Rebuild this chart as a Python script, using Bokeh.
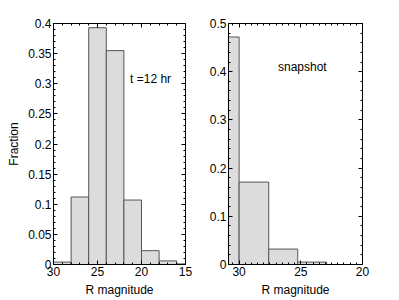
import numpy as np
from bokeh.plotting import figure
from bokeh.layouts import row
from bokeh.models import (Range1d, FixedTicker, LinearAxis, CustomJSTickFormatter, Label)
from bokeh.embed import file_html
from bokeh.resources import INLINE

# ---- data ----
left_edges = [30, 28, 26, 24, 22, 20, 18, 16, 14]
left_frac = [0.004, 0.112, 0.393, 0.355, 0.107, 0.023, 0.006, 0.001]
left_xticks = [30, 25, 20, 15]
left_yticks = [0, 0.05, 0.1, 0.15, 0.2, 0.25, 0.3, 0.35, 0.4]

right_edges = [32.35, 30.0, 27.6, 25.25, 22.9]
right_frac = [0.472, 0.171, 0.032, 0.005]
right_xticks = [30, 25, 20]
right_yticks = [0, 0.1, 0.2, 0.3, 0.4, 0.5]

FONT = "Liberation Sans"
FS = "12px"
FILL = "#dcdcdc"
EDGE = "#555555"

label_fmt = CustomJSTickFormatter(code="return String(Math.round(tick*1000)/1000)")
blank_fmt = CustomJSTickFormatter(code="return ''")


def style_axis(ax, ticker, labels=True):
    ax.ticker = ticker
    ax.major_tick_in = 4
    ax.major_tick_out = 0
    ax.minor_tick_in = 2
    ax.minor_tick_out = 0
    ax.axis_line_color = "black"
    ax.major_tick_line_color = "black"
    ax.minor_tick_line_color = "black"
    ax.major_label_text_font = FONT
    ax.major_label_text_font_size = FS
    ax.major_label_text_color = "black"
    ax.axis_label_text_font = FONT
    ax.axis_label_text_font_size = FS
    ax.axis_label_text_font_style = "normal"
    ax.axis_label_text_color = "black"
    ax.major_label_standoff = 2
    ax.axis_label_standoff = 4
    if labels:
        ax.formatter = label_fmt
    else:
        ax.formatter = blank_fmt
        ax.major_label_standoff = 0


def make_panel(edges, frac, xr, yr, xticks, xminor, yticks, yminor,
               width, mbl, mbr, ylabel, note, note_x, note_y):
    p = figure(width=width, height=299, x_range=Range1d(*xr), y_range=Range1d(*yr),
               output_backend="svg", toolbar_location=None,
               min_border_left=mbl, min_border_right=mbr,
               min_border_top=23, min_border_bottom=32)
    p.xgrid.visible = False
    p.ygrid.visible = False
    p.outline_line_color = "black"
    p.outline_line_alpha = 1.0
    p.background_fill_color = "white"
    p.border_fill_color = "white"
    p.quad(left=edges[:-1], right=edges[1:], bottom=0, top=frac,
           fill_color=FILL, line_color=EDGE, line_width=1)
    xt = FixedTicker(ticks=xticks, minor_ticks=xminor)
    yt = FixedTicker(ticks=yticks, minor_ticks=yminor)
    style_axis(p.xaxis[0], xt)
    style_axis(p.yaxis[0], yt)
    p.xaxis[0].axis_label = "R magnitude"
    if ylabel:
        p.yaxis[0].axis_label = ylabel
    top = LinearAxis()
    style_axis(top, FixedTicker(ticks=xticks, minor_ticks=xminor), labels=False)
    p.add_layout(top, "above")
    right = LinearAxis()
    style_axis(right, FixedTicker(ticks=yticks, minor_ticks=yminor), labels=False)
    p.add_layout(right, "right")
    p.add_layout(Label(x=note_x, y=note_y, text=note, text_font=FONT,
                       text_font_size=FS, text_color="black",
                       text_baseline="middle", text_align="left"))
    return p


p1 = make_panel(left_edges, left_frac, (30, 15), (0, 0.4), left_xticks,
                list(np.arange(15, 31, 1.0)), left_yticks,
                list(np.round(np.arange(0, 0.401, 0.01), 3)),
                200, 53, 15, "Fraction", "t =12 hr", 21.3, 0.308)
p2 = make_panel(right_edges, right_frac, (30.86, 20), (0, 0.5), right_xticks,
                list(np.arange(20, 31, 0.5)), right_yticks,
                list(np.round(np.arange(0, 0.501, 0.02), 3)),
                172, 28, 10, None, "snapshot", 26.85, 0.409)

layout = row(p1, p2)
open("out.html", "w").write(file_html(layout, INLINE))
